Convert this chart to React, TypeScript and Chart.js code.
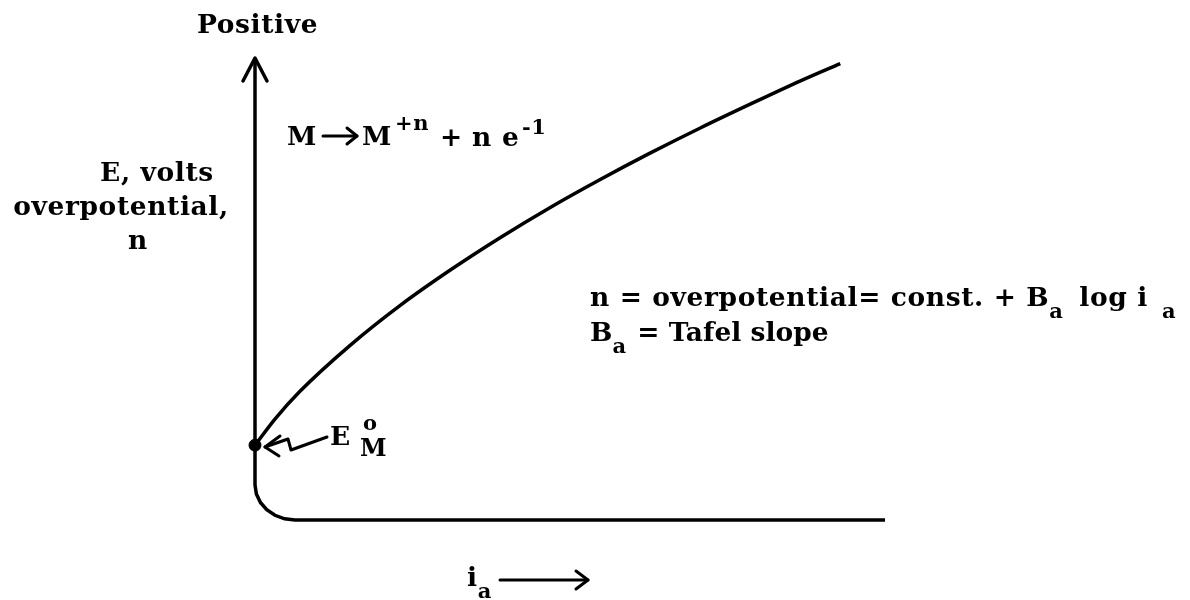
import React, { useEffect, useRef } from "react";
import { Chart, registerables } from "chart.js";

Chart.register(...registerables);

// Schematic polarization curve (arbitrary units: current i_a 0..100, potential E 0..100)
const anodicCurrent = [0, 3.2, 7.1, 15.1, 23.0, 31.0, 38.9, 46.8, 54.8, 62.7, 70.6, 78.6, 86.5, 92.9];
const anodicPotential = [16.2, 21.9, 27.8, 37.8, 46.4, 54.1, 61.1, 67.6, 73.7, 79.4, 84.8, 90.0, 95.0, 98.8];

// Lower branch: from the equilibrium point down and along the current axis
const lowerCurrent = [0, 0, 0.22, 0.86, 1.86, 3.17, 4.7, 6.35, 100];
const lowerPotential = [16.2, 7.58, 5.61, 3.79, 2.23, 1.02, 0.26, 0, 0];

// Potential axis (vertical line with arrow)
const axisCurrent = [0, 0];
const axisPotential = [16.2, 100];

// Equilibrium potential point E°M
const eqCurrent = [0];
const eqPotential = [16.2];

// Text content
const topLabel = "Positive";
const yLabelLines = ["E, volts", "overpotential,", "n"];
const reactionParts = ["M", "M", "+n", "+", "n", "e", "-1"];
const formulaLine1 = ["n = overpotential= const. + B", "a", " log i", "a"];
const formulaLine2 = ["B", "a", " = Tafel slope"];
const eqLabel = ["E", "o", "M"];
const xLabel = ["i", "a"];

const FONT_FAMILY = '"DejaVu Serif", serif';
const MAIN = 26.5;
const SMALL = 21;

function font(size: number) {
  return `bold ${size}px ${FONT_FAMILY}`;
}

type Run = { t: string; k?: "sub" | "sup"; gap?: number };

function drawRuns(ctx: CanvasRenderingContext2D, x: number, y: number, runs: Run[]) {
  let cx = x;
  for (const r of runs) {
    cx += r.gap || 0;
    const size = r.k ? SMALL : MAIN;
    const dy = r.k === "sub" ? 12 : r.k === "sup" ? -13 : 0;
    ctx.font = font(size);
    ctx.fillText(r.t, cx, y + dy);
    cx += ctx.measureText(r.t).width + (r.k ? 2 : 0);
  }
  return cx;
}

const annotationPlugin = {
  id: "schematicAnnotations",
  afterDatasetsDraw(chart: any) {
    const ctx: CanvasRenderingContext2D = chart.ctx;
    const xs = chart.scales.x;
    const ys = chart.scales.y;
    ctx.save();
    ctx.strokeStyle = "#000";
    ctx.fillStyle = "#000";
    ctx.lineCap = "round";
    ctx.lineJoin = "round";
    ctx.textBaseline = "alphabetic";
    (ctx as any).letterSpacing = "0.6px";

    // arrowhead on the potential axis
    const ax = xs.getPixelForValue(axisCurrent[1]);
    const ay = ys.getPixelForValue(axisPotential[1]);
    ctx.lineWidth = 3.5;
    ctx.beginPath();
    ctx.moveTo(ax - 12, ay + 23);
    ctx.lineTo(ax, ay);
    ctx.lineTo(ax + 12, ay + 23);
    ctx.stroke();

    // "Positive"
    ctx.textAlign = "left";
    ctx.font = font(MAIN);
    ctx.fillText(topLabel, 197, 33);

    // axis label lines
    ctx.textAlign = "center";
    ctx.fillText(yLabelLines[0], 157, 181);
    ctx.fillText(yLabelLines[1], 121, 215);
    ctx.fillText(yLabelLines[2], 138, 249);
    ctx.textAlign = "left";

    // reaction M -> M^{+n} + n e^{-1}
    ctx.font = font(MAIN);
    ctx.fillText(reactionParts[0], 287, 145);
    ctx.lineWidth = 3;
    ctx.beginPath();
    ctx.moveTo(323, 136);
    ctx.lineTo(357, 136);
    ctx.stroke();
    ctx.beginPath();
    ctx.moveTo(347, 128);
    ctx.lineTo(357, 136);
    ctx.lineTo(347, 144);
    ctx.stroke();
    ctx.font = font(MAIN);
    ctx.fillText(reactionParts[1], 362, 145);
    ctx.font = font(SMALL);
    ctx.fillText(reactionParts[2], 395, 130);
    ctx.font = font(MAIN);
    ctx.fillText(reactionParts[3], 440, 146);
    ctx.fillText(reactionParts[4], 472, 146);
    ctx.fillText(reactionParts[5], 502, 146);
    ctx.font = font(SMALL);
    ctx.fillText(reactionParts[6], 522, 134);

    // formula lines
    drawRuns(ctx, 590, 306, [
      { t: formulaLine1[0] },
      { t: formulaLine1[1], k: "sub" },
      { t: formulaLine1[2], gap: 4 },
      { t: formulaLine1[3], k: "sub", gap: 14 },
    ]);
    (ctx as any).letterSpacing = "0px";
    drawRuns(ctx, 590, 341, [
      { t: formulaLine2[0] },
      { t: formulaLine2[1], k: "sub" },
      { t: formulaLine2[2] },
    ]);
    (ctx as any).letterSpacing = "0.6px";

    // E°M label
    ctx.font = font(MAIN);
    ctx.fillText(eqLabel[0], 330, 445);
    ctx.font = font(SMALL);
    ctx.fillText(eqLabel[1], 363, 430);
    ctx.font = font(24);
    ctx.fillText(eqLabel[2], 360, 456);

    // squiggly pointer to E°M
    ctx.lineWidth = 3;
    ctx.beginPath();
    ctx.moveTo(327, 437);
    ctx.lineTo(291, 450);
    ctx.lineTo(288, 439);
    ctx.lineTo(265, 447);
    ctx.stroke();
    ctx.beginPath();
    ctx.moveTo(280, 436);
    ctx.lineTo(265, 447);
    ctx.lineTo(279, 456);
    ctx.stroke();

    // i_a label and arrow
    drawRuns(ctx, 467, 586, [{ t: xLabel[0] }, { t: xLabel[1], k: "sub" }]);
    ctx.lineWidth = 3;
    ctx.beginPath();
    ctx.moveTo(500, 580);
    ctx.lineTo(588, 580);
    ctx.stroke();
    ctx.beginPath();
    ctx.moveTo(576, 571);
    ctx.lineTo(588, 580);
    ctx.lineTo(576, 589);
    ctx.stroke();

    ctx.restore();
  },
};

function toPoints(xs: number[], ys: number[]) {
  return xs.map((x, i) => ({ x, y: ys[i] }));
}

export default function App() {
  const ref = useRef<HTMLCanvasElement | null>(null);

  useEffect(() => {
    if (!ref.current) return;
    const chart = new Chart(ref.current, {
      type: "scatter",
      data: {
        datasets: [
          {
            label: "anodic",
            data: toPoints(anodicCurrent, anodicPotential),
            showLine: true,
            borderColor: "#000",
            borderWidth: 3.5,
            pointRadius: 0,
            cubicInterpolationMode: "monotone",
            clip: false,
          } as any,
          {
            label: "lower",
            data: toPoints(lowerCurrent, lowerPotential),
            showLine: true,
            borderColor: "#000",
            borderWidth: 3.5,
            pointRadius: 0,
            tension: 0,
            clip: false,
          } as any,
          {
            label: "axis",
            data: toPoints(axisCurrent, axisPotential),
            showLine: true,
            borderColor: "#000",
            borderWidth: 3.5,
            pointRadius: 0,
            clip: false,
          } as any,
          {
            label: "equilibrium",
            data: toPoints(eqCurrent, eqPotential),
            showLine: false,
            pointRadius: 6,
            backgroundColor: "#000",
            borderColor: "#000",
            clip: false,
          } as any,
        ],
      },
      options: {
        animation: false,
        responsive: false,
        events: [],
        layout: { padding: { left: 255, right: 305, top: 58, bottom: 80 } },
        plugins: {
          legend: { display: false },
          tooltip: { enabled: false },
          title: { display: false },
        },
        scales: {
          x: { type: "linear", min: 0, max: 100, display: false },
          y: { type: "linear", min: 0, max: 100, display: false },
        },
      },
      plugins: [annotationPlugin],
    });
    return () => chart.destroy();
  }, []);

  return (
    <div style={{ position: "fixed", left: 0, top: 0, width: 1190, height: 600, background: "#fff" }}>
      <canvas ref={ref} width={1190} height={600} style={{ display: "block" }} />
    </div>
  );
}
